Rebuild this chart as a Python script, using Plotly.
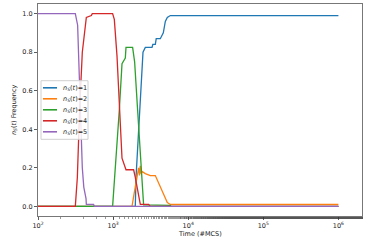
import plotly.graph_objects as go

# ---------------- data ----------------
labels = ["1", "2", "3", "4", "5"]
colors = ["#1f77b4", "#ff7f0e", "#2ca02c", "#d62728", "#9467bd"]

time_n1 = [100, 1975, 2018, 2254, 2501, 2684, 3296, 3380, 3647, 3750, 4251, 4661, 4957, 5268, 5776, 1000000]
frac_n1 = [0, 0, 0.15, 0.5, 0.8, 0.825, 0.825, 0.84, 0.84, 0.87, 0.87, 0.9, 0.96, 0.98, 0.99, 0.99]

time_n2 = [100, 1786, 1875, 1975, 2100, 2186, 2250, 2302, 2360, 2448, 2684, 3128, 3647, 4036, 4251, 4852, 5268, 5776, 1000000]
frac_n2 = [0, 0, 0.05, 0.1, 0.14, 0.2, 0.16, 0.21, 0.17, 0.18, 0.17, 0.16, 0.16, 0.12, 0.1, 0.05, 0.02, 0.01, 0.01]

time_n3 = [100, 985, 1210, 1314, 1454, 1485, 1819, 1934, 2120, 2547, 5776, 5900, 1000000]
frac_n3 = [0, 0, 0.5, 0.74, 0.77, 0.825, 0.825, 0.75, 0.5, 0.008, 0.005, 0, 0]

time_n4 = [100, 314, 334, 358, 389, 413, 440, 513, 528, 985, 1038, 1127, 1210, 1314, 1485, 1875, 1975, 2100, 2254, 2302, 2970, 3128, 1000000]
frac_n4 = [0, 0, 0.15, 0.5, 0.8, 0.89, 0.98, 0.99, 1.0, 1.0, 0.97, 0.78, 0.5, 0.25, 0.19, 0.19, 0.15, 0.1, 0.03, 0.01, 0.01, 0, 0]

time_n5 = [100, 314, 337, 349, 366, 389, 407, 436, 440, 550, 562, 1000000]
frac_n5 = [1, 1, 0.94, 0.75, 0.45, 0.2, 0.1, 0.04, 0.01, 0.01, 0, 0]

x_tick_vals = [1e2, 1e3, 1e4, 1e5, 1e6]
x_tick_text = ["10<sup>2</sup>", "10<sup>3</sup>", "10<sup>4</sup>", "10<sup>5</sup>", "10<sup>6</sup>"]
y_tick_vals = [0.0, 0.2, 0.4, 0.6, 0.8, 1.0]
y_tick_text = ["0.0", "0.2", "0.4", "0.6", "0.8", "1.0"]

series_t = [time_n1, time_n2, time_n3, time_n4, time_n5]
series_v = [frac_n1, frac_n2, frac_n3, frac_n4, frac_n5]

# ---------------- figure ----------------
W, H = 368, 242
ML, MR, MT, MB = 38, 6, 4, 26
FONT = "DejaVu Sans"
TXT = "#222"

fig = go.Figure()
for t, v, c in zip(series_t, series_v, colors):
    fig.add_trace(go.Scatter(x=t, y=v, mode="lines", line=dict(color=c, width=1.3),
                             showlegend=False, hoverinfo="skip"))

def name(lbl):
    return "<i>n</i><sub><i>S</i></sub>(<i>t</i>)=" + lbl

pw = W - ML - MR
ph = H - MT - MB
def px2x(px):
    return (px - ML) / pw
def py2y(py):
    return (H - MB - py) / ph

# manual legend (matplotlib style, compact)
leg_left, leg_right, leg_top, leg_bot = 41, 88, 80.7, 139.3
shapes = [dict(type="rect", xref="paper", yref="paper",
               x0=px2x(leg_left), x1=px2x(leg_right), y0=py2y(leg_bot), y1=py2y(leg_top),
               line=dict(color="#d0d0d0", width=1), fillcolor="rgba(255,255,255,0.85)", layer="above")]
annotations = []
entry0, entry_gap = 87.8, 11.0
for i, (lbl, c) in enumerate(zip(labels, colors)):
    yy = entry0 + i * entry_gap
    shapes.append(dict(type="line", xref="paper", yref="paper",
                       x0=px2x(43), x1=px2x(57), y0=py2y(yy), y1=py2y(yy),
                       line=dict(color=c, width=1.6), layer="above"))
    annotations.append(dict(xref="paper", yref="paper", x=px2x(60.5), y=py2y(yy),
                            xanchor="left", yanchor="middle", showarrow=False,
                            text=name(lbl), font=dict(family=FONT, size=6.5, color=TXT)))

# axis titles as annotations for precise placement
annotations.append(dict(xref="paper", yref="paper", x=0.5, y=py2y(233.5),
                        xanchor="center", yanchor="middle", showarrow=False,
                        text="Time (#MCS)", font=dict(family=FONT, size=6.5, color=TXT)))
annotations.append(dict(xref="paper", yref="paper", x=px2x(14), y=0.5, textangle=-90,
                        xanchor="center", yanchor="middle", showarrow=False,
                        text="<i>n</i><sub><i>S</i></sub>(<i>t</i>) Frequency",
                        font=dict(family=FONT, size=6.5, color=TXT)))

fig.update_layout(
    template="none",
    width=W, height=H,
    margin=dict(l=ML, r=MR, t=MT, b=MB, pad=0),
    paper_bgcolor="white", plot_bgcolor="white",
    font=dict(family=FONT, size=6.5, color=TXT),
    shapes=shapes, annotations=annotations,
    showlegend=False,
)
fig.update_xaxes(
    type="log", range=[2, 6.314], automargin=False,
    tickmode="array", tickvals=x_tick_vals, ticktext=x_tick_text,
    ticks="outside", ticklen=3, tickwidth=0.8, tickcolor="#333",
    minor=dict(ticks="outside", ticklen=1.8, tickwidth=0.6, tickcolor="#555", showgrid=False),
    showgrid=False, zeroline=False,
    showline=True, mirror=True, linecolor="#777", linewidth=1,
    tickfont=dict(family=FONT, size=6.5, color=TXT),
)
fig.update_yaxes(
    range=[-0.05, 1.05], automargin=False,
    tickmode="array", tickvals=y_tick_vals, ticktext=y_tick_text,
    ticks="outside", ticklen=3, tickwidth=0.8, tickcolor="#333",
    showgrid=False, zeroline=False,
    showline=True, mirror=True, linecolor="#777", linewidth=1,
    tickfont=dict(family=FONT, size=6.5, color=TXT),
)

fig.write_html("out.html",
               config=dict(displayModeBar=False, staticPlot=True),
               post_script="document.body.style.margin='0';document.body.style.overflow='hidden';")
